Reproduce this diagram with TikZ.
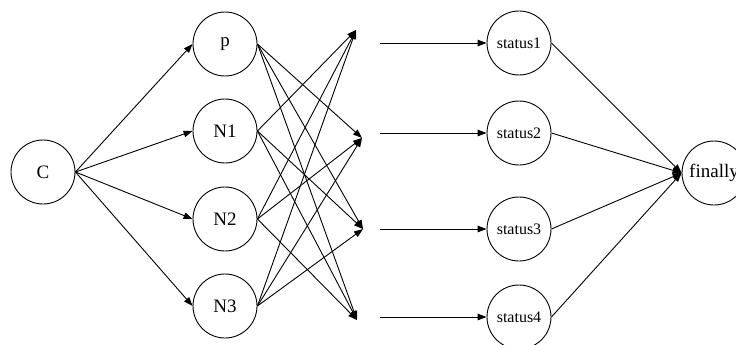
\documentclass[tikz,border=0pt]{standalone}
\usepackage{fontspec}
\setmainfont{Liberation Serif}
\usetikzlibrary{arrows.meta}
\begin{document}
\begin{tikzpicture}[x=1pt,y=-1pt,
  state/.style={circle,draw,line width=0.9pt,minimum size=64pt,inner sep=0pt,
                font=\fontsize{19}{22}\selectfont},
  statelbl/.style={state,font=\fontsize{16}{19}\selectfont},
  edge/.style={line width=0.9pt,-{Triangle[length=9pt,width=6.5pt]}}]
\useasboundingbox (0,0) rectangle (736,345);

% source and first layer
\node[state] (C)  at (43,172)  {C};
\node[state] (p)  at (225,44)  {p};
\node[state] (N1) at (225,131) {N1};
\node[state] (N2) at (225,219) {N2};
\node[state] (N3) at (225,306) {N3};

% empty junctions: where the crossing edges arrive, and where the next edges leave
\coordinate (h1) at (356,30);
\coordinate (h2) at (362,138);
\coordinate (h3) at (363,229);
\coordinate (h4) at (357,320);
\coordinate (o1) at (380,43);
\coordinate (o2) at (380,133);
\coordinate (o3) at (380,229);
\coordinate (o4) at (380,317);

% status layer and sink
\node[statelbl] (s1) at (519,43)  {status1};
\node[statelbl] (s2) at (519,133) {status2};
\node[statelbl] (s3) at (519,229) {status3};
\node[statelbl] (s4) at (519,317) {status4};
\node[state] (fin) at (714,173) {finally};

% C fans out
\foreach \t in {p,N1,N2,N3}
  \draw[edge] (C.east) -- (\t.west);

% each first-layer node reaches every junction but its own row
\foreach \t in {h2,h3,h4} \draw[edge] (p.east)  -- (\t);
\foreach \t in {h1,h3,h4} \draw[edge] (N1.east) -- (\t);
\foreach \t in {h1,h2,h4} \draw[edge] (N2.east) -- (\t);
\foreach \t in {h1,h2,h3} \draw[edge] (N3.east) -- (\t);

% junctions to statuses, statuses to sink
\foreach \i in {1,2,3,4} {
  \draw[edge] (o\i) -- (s\i.west);
  \draw[edge] (s\i.east) -- (fin.west);
}
\end{tikzpicture}
\end{document}
